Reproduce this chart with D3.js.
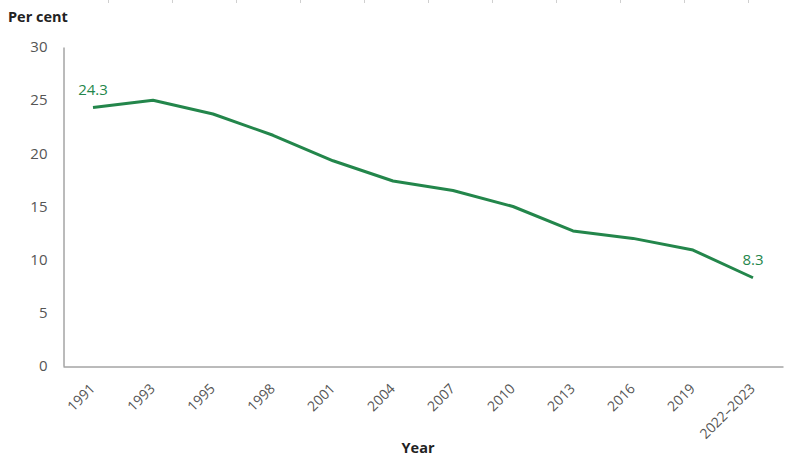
<!DOCTYPE html>
<html>
<head>
<meta charset="utf-8">
<script src="https://cdn.jsdelivr.net/npm/d3@7"></script>
<style>
  body { margin: 0; background: #fff; }
  svg { display: block; font-family: "Open Sans", sans-serif; }
</style>
</head>
<body>
<div class="content-container"></div>
<script>
// data
var years = ["1991", "1993", "1995", "1998", "2001", "2004", "2007", "2010", "2013", "2016", "2019", "2022\u20132023"];
var values = [24.3, 25.0, 23.7, 21.7, 19.3, 17.4, 16.5, 15.0, 12.7, 12.0, 10.9, 8.3];
var yTicks = [0, 5, 10, 15, 20, 25, 30];

const width = 798;
const height = 464;
const plotLeft = 63, plotRight = 783, plotTop = 47, plotBottom = 366;
const green = "#23864b";
const grey = "#555555";
const font = "'Open Sans', sans-serif";

const svg = d3.select(".content-container")
  .append("svg")
  .attr("width", width)
  .attr("height", height);

// faint separator marks along the very top edge (from the page above)
svg.selectAll("line.sep")
  .data(d3.range(108, 760, 64))
  .enter()
  .append("line")
  .attr("class", "sep")
  .attr("x1", d => d + 0.5).attr("x2", d => d + 0.5)
  .attr("y1", 0).attr("y2", 3)
  .attr("stroke", "#d0d0d0");

//SCALES
const xScale = d3.scaleBand()
  .domain(years)
  .range([plotLeft, plotRight]);

const yScale = d3.scaleLinear()
  .domain([0, 30])
  .range([plotBottom, plotTop]);

//AXES
const yAxis = d3.axisLeft(yScale).tickValues(yTicks).tickSize(0).tickPadding(16);
const gy = svg.append("g")
  .attr("transform", "translate(" + (plotLeft + 0.5) + ",0)")
  .call(yAxis)
  .attr("font-family", font)
  .attr("font-size", 15);
gy.select(".domain").attr("stroke", "#767676");
gy.selectAll("text")
  .attr("fill", grey);

const xAxis = d3.axisBottom(xScale).tickSize(0).tickPadding(0);
const gx = svg.append("g")
  .attr("transform", "translate(0," + (plotBottom + 0.5) + ")")
  .call(xAxis)
  .attr("font-family", font)
  .attr("font-size", 14);
gx.select(".domain").attr("stroke", "#767676");
gx.selectAll("text")
  .attr("fill", grey)
  .attr("text-anchor", "end")
  .attr("dy", null)
  .attr("y", 0)
  .attr("transform", "translate(3,23) rotate(-45)");

//LINE
const line = d3.line()
  .x((d, i) => xScale(years[i]) + xScale.bandwidth() / 2)
  .y(d => yScale(d));

svg.append("path")
  .datum(values)
  .attr("d", line)
  .attr("fill", "none")
  .attr("stroke", green)
  .attr("stroke-width", 3)
  .attr("stroke-linejoin", "round");

// first and last value labels
const ends = [0, values.length - 1];
svg.selectAll("text.val")
  .data(ends)
  .enter()
  .append("text")
  .attr("class", "val")
  .attr("x", i => xScale(years[i]) + xScale.bandwidth() / 2)
  .attr("y", i => yScale(values[i]) - 13)
  .attr("text-anchor", "middle")
  .attr("fill", green)
  .style("font-size", "15px")
  .text(i => values[i].toFixed(1));

//AXIS TITLES
svg.append("text")
  .attr("x", 8)
  .attr("y", 22)
  .attr("fill", "#222")
  .style("font-size", "14.5px")
  .style("font-weight", "bold")
  .text("Per cent");

svg.append("text")
  .attr("x", 418)
  .attr("y", 453)
  .attr("text-anchor", "middle")
  .attr("fill", "#222")
  .style("font-size", "14.5px")
  .style("font-weight", "bold")
  .text("Year");
</script>
</body>
</html>
